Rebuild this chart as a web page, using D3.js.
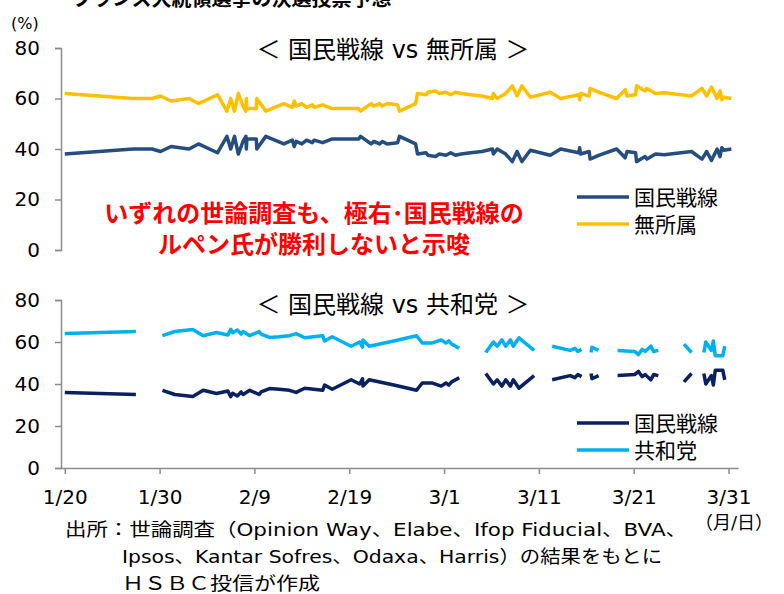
<!DOCTYPE html>
<html>
<head>
<meta charset="utf-8">
<script src="https://cdn.jsdelivr.net/npm/d3@7"></script>
<style>
  body { margin: 0; background: #fff; }
  text { font-family: "DejaVu Sans", "Noto Sans CJK JP", sans-serif; fill: #000; }
</style>
</head>
<body>
<svg id="chart" width="784" height="594"></svg>
<script>
// DATA
// poll dates as days after Jan 20 2017 (several polls on one day get split by a fraction)
var topDays = [0, 7.2, 9.2, 10.1, 11.2, 13.1, 14.1, 16.1, 17.1, 17.5,
  17.9, 18.3, 18.8, 19.1, 19.15, 19.2, 20.2, 20.25, 21.2, 23.1,
  24.0, 24.2, 24.4, 25.0, 25.5, 26.1, 26.3, 27.2, 28.2, 31.0,
  31.2, 32.3, 32.6, 33.2, 33.5, 34.0, 35.1, 35.3, 37.0, 37.2,
  38.1, 38.3, 39.1, 39.5, 40.2, 40.7, 41.2, 41.8, 42.8, 44.0,
  45.1, 45.2, 45.6, 46.5, 47.2, 47.7, 48.2, 49.1, 51.2, 52.3,
  54.2, 54.3, 54.4, 55.3, 55.4, 56.3, 58.2, 59.1, 59.3, 60.2,
  60.3, 61.2, 61.4, 62.3, 63.2, 66.1, 67.2, 67.7, 68.2, 68.8,
  69.1, 69.3, 69.5, 70.3];
// 国民戦線 vs 無所属
var topFN = [38, 40, 40, 39, 41, 40, 42, 38.5, 45, 40,
  45, 38, 43, 45, 40, 44, 44, 40, 45, 42,
  43.5, 41, 43, 42, 43.5, 42.5, 43.5, 42.5, 44, 44,
  45, 42, 43, 42, 43, 42, 42.5, 45, 42, 38,
  38.5, 37.5, 37, 38, 37.5, 38.5, 37.5, 38, 38.5, 39,
  40, 38, 40, 38, 35, 39, 35, 39.5, 37.5, 40,
  38.5, 40.5, 38, 39, 36, 37.5, 40, 36.5, 39, 38.5,
  35, 37, 36, 38, 37.7, 39, 36, 39, 35.5, 40,
  37, 40.5, 39.5, 40];
var topInd = [62, 60, 60, 61, 59, 60, 58, 61.5, 55, 60,
  55, 62, 57, 55, 60, 56, 56, 60, 55, 58,
  56.5, 59, 57, 58, 56.5, 57.5, 56.5, 57.5, 56, 56,
  55, 58, 57, 58, 57, 58, 57.5, 55, 58, 62,
  61.5, 62.5, 63, 62, 62.5, 61.5, 62.5, 62, 61.5, 61,
  60, 62, 60, 62, 65, 61, 65, 60.5, 62.5, 60,
  61.5, 59.5, 62, 61, 64, 62.5, 60, 63.5, 61, 61.5,
  65, 63, 64, 62, 62.3, 61, 64, 61, 64.5, 60,
  63, 59.5, 60.5, 60];

// 国民戦線 vs 共和党 (null = no poll, line breaks)
var botDays = [0, 7.5, 9,
  10.3, 11.6, 13.5, 14.6, 16.0, 17.2, 17.5, 17.7, 18.2, 18.6,
  18.8, 19.5, 20.5, 20.7, 21.6, 22.6, 23.7, 24.4, 25.3, 27.2,
  27.4, 28.2, 30.2, 31.1, 31.4, 31.45, 32.1, 34.7, 37.1, 37.7,
  38.7, 39.7, 40.2, 40.5, 40.8, 41.6, 43,
  44.4, 45.2, 45.6, 46.1, 46.5, 47.0, 47.3, 47.9, 48.7, 49.5, 50.5,
  51.4, 53.3, 53.8, 54.1, 54.5, 55,
  55.5, 55.6, 56.3, 57,
  58.3, 60.1, 60.5, 60.9, 61.2, 61.8, 62.1, 62.6, 64,
  65.3, 66.1, 66.8,
  67.4, 67.6, 68.2, 68.4, 68.6, 69.4, 69.6];
var botFN = [36, 35, null,
  37, 35, 34, 37, 35.5, 36.7, 34, 35.6, 34.3, 36.2,
  35, 37, 35, 36.2, 37.8, 37.5, 37, 36, 38, 37,
  39.5, 37.5, 42, 40, 42.5, 39, 42, 39.5, 37, 40.5,
  40.5, 39, 40.5, 39.5, 41, 43, null,
  45, 40, 42, 39, 42, 39, 42, 38, 41, 44, null,
  42, 44, 43, 44.5, 43.5, null,
  45, 42.5, 44, null,
  44, 44.5, 46, 43.5, 44.5, 42, 44.5, 44, null,
  41, 45, null,
  45, 40, 44, 39.5, 46.5, 46.5, 42];
var botLR = [64, 65, null,
  63, 65, 66, 63, 64.5, 63.3, 66, 64.4, 65.7, 63.8,
  65, 63, 65, 63.8, 62.2, 62.5, 63, 64, 62, 63,
  60.5, 62.5, 58, 60, 57.5, 61, 58, 60.5, 63, 59.5,
  59.5, 61, 59.5, 60.5, 59, 57, null,
  55, 60, 58, 61, 58, 61, 58, 62, 59, 56, null,
  58, 56, 57, 55.5, 56.5, null,
  55, 57.5, 56, null,
  56, 55.5, 54, 56.5, 55.5, 58, 55.5, 56, null,
  59, 55, null,
  55, 60, 56, 60.5, 53.5, 53.5, 58];

var tickDates = ["2017-01-20", "2017-01-30", "2017-02-09", "2017-02-19",
  "2017-03-01", "2017-03-11", "2017-03-21", "2017-03-31"];
var yTicks = [0, 20, 40, 60, 80];

var title = "フランス大統領選挙の決選投票予想";
var topSubtitle = "＜ 国民戦線 vs 無所属 ＞";
var botSubtitle = "＜ 国民戦線 vs 共和党 ＞";
var topNames = ["国民戦線", "無所属"];
var botNames = ["国民戦線", "共和党"];
var note = ["いずれの世論調査も、極右･国民戦線の", "ルペン氏が勝利しないと示唆"];
var source = ["出所：世論調査（Opinion  Way、Elabe、Ifop  Fiducial、BVA、",
  "Ipsos、Kantar Sofres、Odaxa、Harris）の結果をもとに",
  "ＨＳＢＣ投信が作成"];

// SETUP
var svg = d3.select("#chart");
var start = new Date(2017, 0, 20);
var toDate = function(d) { return new Date(start.getTime() + d * 864e5); };
var parse = d3.timeParse("%Y-%m-%d");

var x = d3.scaleTime().domain([toDate(-0.4), toDate(71)]).range([61, 738]);
var yTop = d3.scaleLinear().domain([0, 80]).range([250, 48]);
var yBot = d3.scaleLinear().domain([0, 80]).range([468, 300]);

var axisColor = "#8c8c8c";

// title, cut off at the top like the original
svg.append("text").attr("x", 72).attr("y", 6)
  .attr("font-size", 20).attr("font-weight", "bold").text(title);
svg.append("text").attr("x", 11).attr("y", 29).attr("font-size", 16).text("(%)");

var styleAxis = function(g) {
  g.selectAll("path, line").attr("stroke", axisColor).attr("stroke-width", 1.5);
  g.selectAll("text").attr("font-size", 20).attr("fill", "#000")
    .attr("font-family", "DejaVu Sans, sans-serif");
};

svg.append("g").attr("transform", "translate(61,0)")
  .call(d3.axisLeft(yTop).tickValues(yTicks).tickSize(6).tickPadding(15))
  .call(styleAxis);
svg.append("g").attr("transform", "translate(61,0)")
  .call(d3.axisLeft(yBot).tickValues(yTicks).tickSize(6).tickPadding(15))
  .call(styleAxis);
svg.append("g").attr("transform", "translate(0,468)")
  .call(d3.axisBottom(x).tickValues(tickDates.map(parse))
    .tickFormat(d3.timeFormat("%-m/%-d")).tickSize(6).tickSizeOuter(0).tickPadding(16))
  .call(styleAxis);

// lines
var drawLine = function(days, vals, yScale, color) {
  var pts = days.map(function(d, i) { return { d: d, v: vals[i] }; });
  var line = d3.line()
    .defined(function(p) { return p.v !== null; })
    .x(function(p) { return x(toDate(p.d)); })
    .y(function(p) { return yScale(p.v); });
  svg.append("path").datum(pts)
    .attr("fill", "none").attr("stroke", color)
    .attr("stroke-width", 3.5).attr("stroke-linejoin", "round")
    .attr("d", line);
};

var topColors = ["#254d80", "#ffc000"];
var botColors = ["#0a2060", "#00b0f0"];
drawLine(topDays, topInd, yTop, topColors[1]);
drawLine(topDays, topFN, yTop, topColors[0]);
drawLine(botDays, botLR, yBot, botColors[1]);
drawLine(botDays, botFN, yBot, botColors[0]);

// subtitles
svg.append("text").attr("x", 393).attr("y", 58).attr("text-anchor", "middle")
  .attr("font-size", 24).text(topSubtitle);
svg.append("text").attr("x", 393).attr("y", 313).attr("text-anchor", "middle")
  .attr("font-size", 24).text(botSubtitle);

// legends
var legend = function(names, colors, y0) {
  names.forEach(function(n, i) {
    var yy = y0 + i * 27;
    svg.append("line").attr("x1", 577).attr("x2", 629).attr("y1", yy).attr("y2", yy)
      .attr("stroke", colors[i]).attr("stroke-width", 3.5);
    svg.append("text").attr("x", 634).attr("y", yy + 8).attr("font-size", 21).text(n);
  });
};
legend(topNames, topColors, 197);
legend(botNames, botColors, 423);

// red note
note.forEach(function(t, i) {
  svg.append("text").attr("x", 314).attr("y", 222 + i * 31).attr("text-anchor", "middle")
    .attr("font-size", 24).attr("font-weight", "bold").style("fill", "#ff0000").text(t);
});

// source
var srcPos = [[65, 536, 622], [122, 563, 540], [122, 590, 198]];
source.forEach(function(t, i) {
  svg.append("text").attr("x", srcPos[i][0]).attr("y", srcPos[i][1])
    .attr("font-size", 18).attr("textLength", srcPos[i][2])
    .attr("lengthAdjust", "spacingAndGlyphs").text(t);
});
svg.append("text").attr("x", 734).attr("y", 529).attr("text-anchor", "middle")
  .attr("font-size", 18).text("（月/日）");
</script>
</body>
</html>
